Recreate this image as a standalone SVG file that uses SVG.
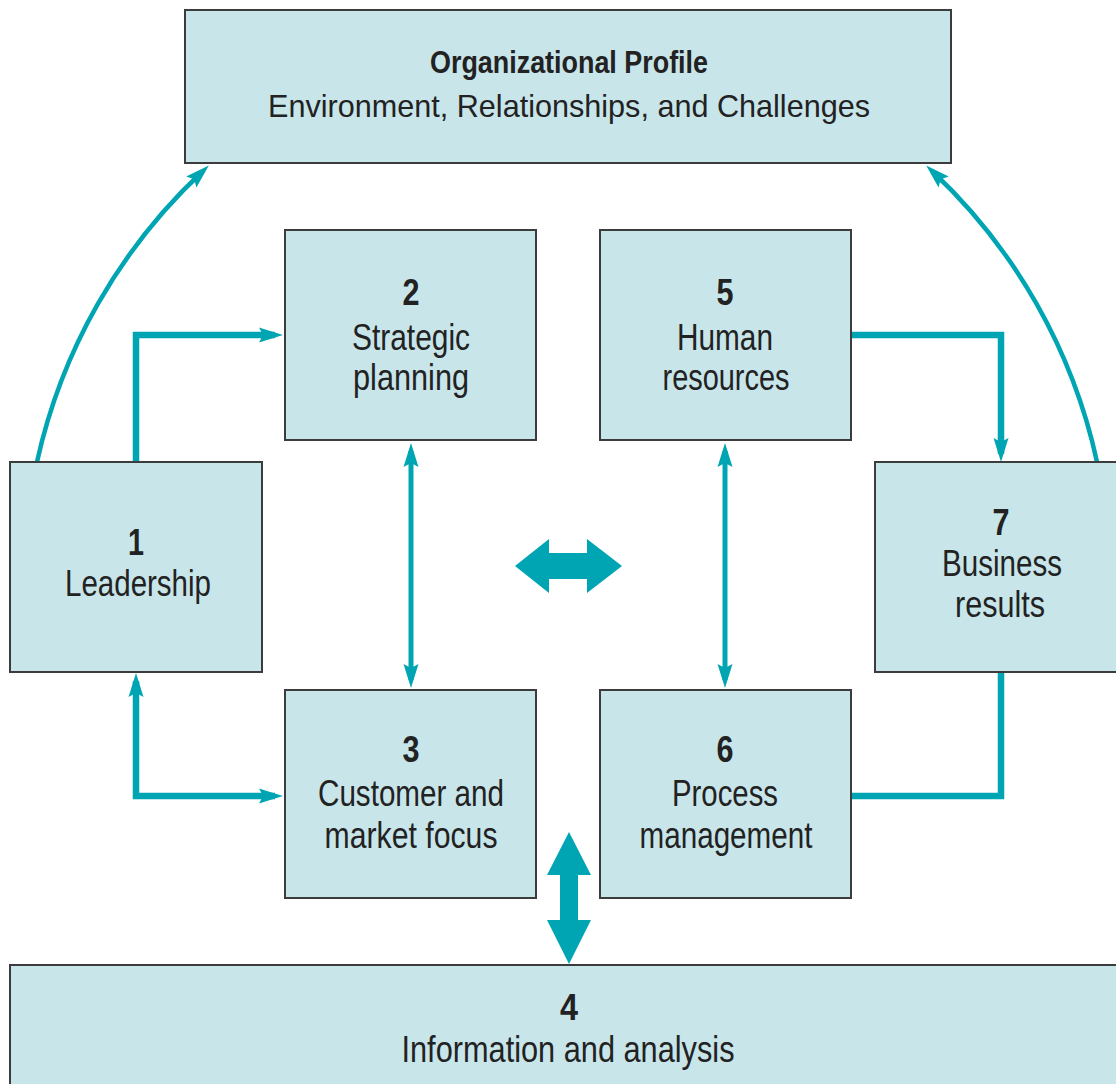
<svg xmlns="http://www.w3.org/2000/svg" width="1116" height="1084" viewBox="0 0 1116 1084">
  <style>
    .box { fill: #c8e5ea; stroke: #3c3c3c; stroke-width: 2; }
    .t { font-family: "Liberation Sans", Arial, sans-serif; font-size: 37px; fill: #222; text-anchor: middle; }
    .n { font-weight: bold; }
    .top { font-size: 32px; }
    .thin { fill: none; stroke: #00a5b3; stroke-width: 4.5; }
    .thick { fill: none; stroke: #00a5b3; stroke-width: 6.5; }
    .vert { fill: none; stroke: #00a5b3; stroke-width: 5; }
    .big { fill: #00a5b3; }
  </style>
  <defs>
    <marker id="ah" markerUnits="userSpaceOnUse" viewBox="-20 -9 30 18" refX="0" refY="0" markerWidth="30" markerHeight="18" orient="auto-start-reverse">
      <path d="M8,0 L-16,-7.5 L-12,0 L-16,7.5 Z" fill="#00a5b3"/>
    </marker>
  </defs>
  <rect width="1116" height="1084" fill="#ffffff"/>

  <g id="connectors">
    <path class="thin" d="M37,462 A563,563 0 0 1 203,171" marker-end="url(#ah)"/>
    <path class="thin" d="M1097,462 A563,563 0 0 0 932,171" marker-end="url(#ah)"/>
    <path class="thick" d="M136,462 L136,335 L275,335" marker-end="url(#ah)"/>
    <path class="thick" d="M851,335 L1001,335 L1001,454" marker-end="url(#ah)"/>
    <path class="thick" d="M136,681 L136,796 L275,796" marker-start="url(#ah)" marker-end="url(#ah)"/>
    <path class="thick" d="M1001,672 L1001,796 L851,796"/>
    <path class="vert" d="M411,451 L411,680" marker-start="url(#ah)" marker-end="url(#ah)"/>
    <path class="vert" d="M725,451 L725,680" marker-start="url(#ah)" marker-end="url(#ah)"/>
    <polygon class="big" points="515,566 549,539 549,553 587,553 587,539 622,566 587,593 587,579 549,579 549,593"/>
    <polygon class="big" points="569,832 591,875 578,875 578,920 591,920 569,964 547,920 560,920 560,875 547,875"/>
  </g>

  <g id="node-profile">
    <rect class="box" x="185" y="10" width="766" height="153"/>
    <text class="t top n" x="569" y="73" textLength="278" lengthAdjust="spacingAndGlyphs">Organizational Profile</text>
    <text class="t top" x="569" y="117" textLength="602" lengthAdjust="spacingAndGlyphs">Environment, Relationships, and Challenges</text>
  </g>
  <g id="node-1">
    <rect class="box" x="10" y="462" width="252" height="210"/>
    <text class="t n" x="136" y="555" textLength="16" lengthAdjust="spacingAndGlyphs">1</text>
    <text class="t" x="138" y="596" textLength="146" lengthAdjust="spacingAndGlyphs">Leadership</text>
  </g>
  <g id="node-2">
    <rect class="box" x="285" y="230" width="251" height="210"/>
    <text class="t n" x="411" y="305" textLength="17" lengthAdjust="spacingAndGlyphs">2</text>
    <text class="t" x="411" y="350" textLength="118" lengthAdjust="spacingAndGlyphs">Strategic</text>
    <text class="t" x="411" y="390" textLength="116" lengthAdjust="spacingAndGlyphs">planning</text>
  </g>
  <g id="node-5">
    <rect class="box" x="600" y="230" width="251" height="210"/>
    <text class="t n" x="725" y="305" textLength="17" lengthAdjust="spacingAndGlyphs">5</text>
    <text class="t" x="725" y="350" textLength="96" lengthAdjust="spacingAndGlyphs">Human</text>
    <text class="t" x="726" y="390" textLength="127" lengthAdjust="spacingAndGlyphs">resources</text>
  </g>
  <g id="node-7">
    <rect class="box" x="875" y="462" width="250" height="210"/>
    <text class="t n" x="1001" y="535" textLength="17" lengthAdjust="spacingAndGlyphs">7</text>
    <text class="t" x="1002" y="576" textLength="120" lengthAdjust="spacingAndGlyphs">Business</text>
    <text class="t" x="1000" y="617" textLength="90" lengthAdjust="spacingAndGlyphs">results</text>
  </g>
  <g id="node-3">
    <rect class="box" x="285" y="690" width="251" height="208"/>
    <text class="t n" x="411" y="762" textLength="17" lengthAdjust="spacingAndGlyphs">3</text>
    <text class="t" x="411" y="806" textLength="186" lengthAdjust="spacingAndGlyphs">Customer and</text>
    <text class="t" x="411" y="848" textLength="173" lengthAdjust="spacingAndGlyphs">market focus</text>
  </g>
  <g id="node-6">
    <rect class="box" x="600" y="690" width="251" height="208"/>
    <text class="t n" x="725" y="762" textLength="17" lengthAdjust="spacingAndGlyphs">6</text>
    <text class="t" x="725" y="806" textLength="106" lengthAdjust="spacingAndGlyphs">Process</text>
    <text class="t" x="726" y="848" textLength="173" lengthAdjust="spacingAndGlyphs">management</text>
  </g>
  <g id="node-4">
    <rect class="box" x="10" y="965" width="1120" height="130"/>
    <text class="t n" x="569" y="1020" textLength="18" lengthAdjust="spacingAndGlyphs">4</text>
    <text class="t" x="568" y="1062" textLength="333" lengthAdjust="spacingAndGlyphs">Information and analysis</text>
  </g>
</svg>
